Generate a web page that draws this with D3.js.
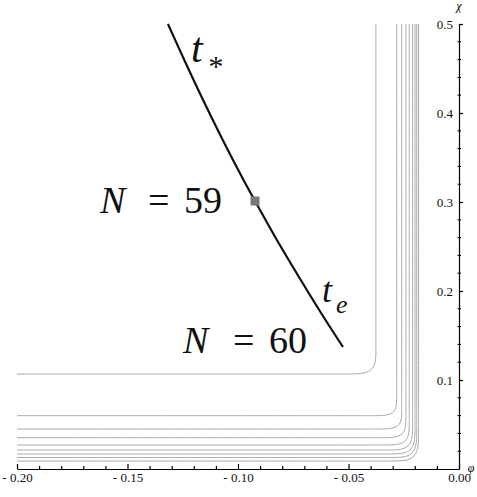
<!DOCTYPE html>
<html>
<head>
<meta charset="utf-8">
<script src="https://cdn.jsdelivr.net/npm/d3@7"></script>
<style>
  body { margin: 0; background: #fff; }
  svg { display: block; }
</style>
</head>
<body>
<div id="plot"></div>
<script>
var svgWidth = 477;
var svgHeight = 497;

// trajectory (phi, chi)
var curvePhi = [-0.1317, -0.1243, -0.1158, -0.1069, -0.0975, -0.0923, -0.0824, -0.0716, -0.0604, -0.0525];
var curveChi = [0.500, 0.4596, 0.4146, 0.3697, 0.3247, 0.3011, 0.2573, 0.2124, 0.1674, 0.1371];

// marked point (N = 59)
var markPhi = [-0.0923];
var markChi = [0.3011];

// contour lines: vertical asymptote (phi), horizontal asymptote (chi), and where the bend starts
var contourPhi = [-0.0376, -0.0282, -0.0259, -0.0240, -0.0225, -0.0210, -0.0199, -0.0191, -0.0183];
var contourChi = [0.1067, 0.0599, 0.0449, 0.0352, 0.0270, 0.0213, 0.0169, 0.0129, 0.0090];
var bendPhi = [0.014, 0.011, 0.011, 0.011, 0.011, 0.012, 0.012, 0.012, 0.012];
var bendChi = [0.027, 0.021, 0.022, 0.024, 0.026, 0.028, 0.030, 0.032, 0.034];

// ticks
var phiMajor = [-0.20, -0.15, -0.10, -0.05, 0.00];
var phiLabels = ["- 0.20", "- 0.15", "- 0.10", "- 0.05", "0.00"];
var phiMinor = [-0.19, -0.18, -0.17, -0.16, -0.14, -0.13, -0.12, -0.11, -0.09, -0.08, -0.07, -0.06, -0.04, -0.03, -0.02, -0.01];
var chiMajor = [0.1, 0.2, 0.3, 0.4, 0.5];
var chiLabels = ["0.1", "0.2", "0.3", "0.4", "0.5"];
var chiMinor = [0.02, 0.04, 0.06, 0.08, 0.12, 0.14, 0.16, 0.18, 0.22, 0.24, 0.26, 0.28, 0.32, 0.34, 0.36, 0.38, 0.42, 0.44, 0.46, 0.48];

var svg = d3.select("#plot")
  .append("svg")
  .attr("width", svgWidth)
  .attr("height", svgHeight);

var xScale = d3.scaleLinear().domain([-0.2, 0]).range([17, 459]);
var yScale = d3.scaleLinear().domain([0, 0.5]).range([469, 24]);

function setFont(sel, size, italic) {
  sel.attr("font-family", "Liberation Serif")
    .attr("font-size", size);
  if (italic) sel.attr("font-style", "italic");
  return sel;
}

// contours
var contourLine = d3.line()
  .x(d => xScale(d[0]))
  .y(d => yScale(d[1]))
  .curve(d3.curveBasis);

contourPhi.forEach(function(a, i) {
  var b = contourChi[i];
  var pts = [
    [-0.2, b],
    [a - 2 * bendPhi[i], b],
    [a - bendPhi[i], b],
    [a, b],
    [a, b + bendChi[i]],
    [a, b + 2 * bendChi[i]],
    [a, 0.5]
  ];
  svg.append("path")
    .attr("d", contourLine(pts))
    .attr("fill", "none")
    .attr("stroke", "#ababab")
    .attr("stroke-width", 1);
});

// x axis
svg.append("g")
  .attr("transform", `translate(0, ${yScale(0)})`)
  .call(d3.axisBottom(xScale)
    .tickValues(phiMajor)
    .tickSizeInner(-5)
    .tickSizeOuter(0)
    .tickPadding(4)
    .tickFormat((d, i) => phiLabels[i]));

svg.append("g")
  .attr("transform", `translate(0, ${yScale(0)})`)
  .call(d3.axisBottom(xScale)
    .tickValues(phiMinor)
    .tickSize(-3)
    .tickFormat(""))
  .select(".domain").remove();

// y axis (labels inside, ticks outward)
svg.append("g")
  .attr("transform", `translate(${xScale(0)}, 0)`)
  .call(d3.axisLeft(yScale)
    .tickValues(chiMajor)
    .tickSizeInner(-4)
    .tickSizeOuter(0)
    .tickPadding(6)
    .tickFormat((d, i) => chiLabels[i]));

svg.append("g")
  .selectAll("line")
  .data(chiMinor)
  .enter()
  .append("line")
  .attr("x1", xScale(0) - 1.5)
  .attr("x2", xScale(0) + 2)
  .attr("y1", d => yScale(d))
  .attr("y2", d => yScale(d))
  .attr("stroke", "#000");

svg.selectAll("g").attr("font-family", "Liberation Serif").attr("font-size", 13);
svg.selectAll(".tick text").attr("fill", "#111");
svg.selectAll(".tick line, .domain").attr("stroke", "#000").attr("stroke-width", 1.2);

// axis names
setFont(svg.append("text"), 12, true)
  .attr("x", xScale(0))
  .attr("y", 10)
  .attr("text-anchor", "middle")
  .text("χ");

setFont(svg.append("text"), 12, true)
  .attr("x", xScale(0) + 12)
  .attr("y", yScale(0) + 3)
  .attr("text-anchor", "middle")
  .text("φ");

// trajectory
var curveData = curvePhi.map((p, i) => [p, curveChi[i]]);
svg.append("path")
  .datum(curveData)
  .attr("d", d3.line()
    .x(d => xScale(d[0]))
    .y(d => yScale(d[1]))
    .curve(d3.curveCatmullRom))
  .attr("fill", "none")
  .attr("stroke", "#111")
  .attr("stroke-width", 2.2);

svg.selectAll("rect.mark")
  .data(markPhi)
  .enter()
  .append("rect")
  .attr("class", "mark")
  .attr("x", d => xScale(d) - 4.5)
  .attr("y", (d, i) => yScale(markChi[i]) - 4.5)
  .attr("width", 9)
  .attr("height", 9)
  .attr("fill", "#7a7a7a");

// annotations
function nLabel(xN, xEq, xNum, baseline, num) {
  var t = setFont(svg.append("text"), 38)
    .attr("y", baseline)
    .attr("fill", "#111");
  t.append("tspan").attr("x", xN).attr("font-style", "italic").text("N");
  t.append("tspan").attr("x", xEq).text("=");
  t.append("tspan").attr("x", xNum).text(num);
}
nLabel(100, 148, 184, 213, "59");
nLabel(183, 233, 269, 353, "60");

function tLabel(x, baseline, size, sub, subDx, subBase, subSize) {
  setFont(svg.append("text"), size, true)
    .attr("x", x)
    .attr("y", baseline)
    .attr("fill", "#111")
    .text("t");
  setFont(svg.append("text"), subSize, true)
    .attr("x", x + subDx)
    .attr("y", subBase)
    .attr("fill", "#111")
    .text(sub);
}
tLabel(191, 62, 42, "*", 16, 76, 30);
tLabel(322, 302, 36, "e", 14, 313, 26);
</script>
</body>
</html>
